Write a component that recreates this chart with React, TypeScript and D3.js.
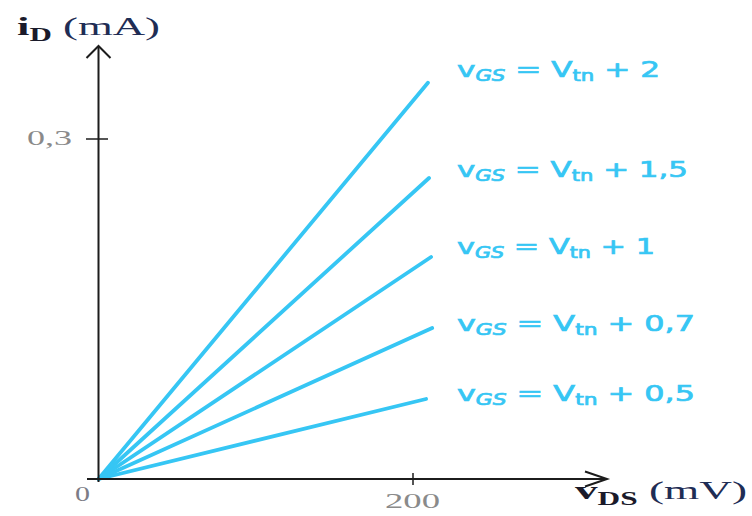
import React from "react";
import * as d3 from "d3";

// ---- data ----
const overdrive = ["2", "1,5", "1", "0,7", "0,5"]; // vGS - Vtn (V)
const endVds = [209.5, 210.2, 211.5, 212.2, 208.3]; // mV, where each line stops
const endId = [0.3497, 0.2656, 0.1959, 0.1332, 0.0706]; // mA at that end
const xTicks = [200];
const xTickLabels = ["200"];
const yTicks = [0.3];
const yTickLabels = ["0,3"];

const W = 752;
const H = 516;
const BLUE = "#36c6f4";
const AXIS = "#1c1c1c";

const x = d3.scaleLinear().domain([0, 200]).range([98.5, 413]);
const y = d3.scaleLinear().domain([0, 0.3]).range([479, 139]);

const labelDy = [-6, -1, -3, 3, 2];
const labelWidths = [203, 231, 198, 238, 238];

export default function App() {
  const line = d3
    .line<[number, number]>()
    .x((d) => x(d[0]))
    .y((d) => y(d[1]));
  const x0 = x(0);
  const y0 = y(0);
  const xEnd = 607;
  const yTop = 46;
  return (
    <svg
      width={W}
      height={H}
      style={{ position: "absolute", left: 0, top: 0, background: "#fff" }}
    >
      {/* series lines */}
      {overdrive.map((o, i) => (
        <path
          key={"l" + i}
          d={line([
            [0, 0],
            [endVds[i], endId[i]],
          ]) as string}
          fill="none"
          stroke={BLUE}
          strokeWidth={3.8}
          strokeLinecap="round"
        />
      ))}

      {/* axes */}
      <line x1={87} y1={y0} x2={xEnd} y2={y0} stroke={AXIS} strokeWidth={2} />
      <line x1={x0} y1={482} x2={x0} y2={yTop} stroke={AXIS} strokeWidth={2} />
      <polyline
        points={`${x0 - 12},${yTop + 12} ${x0},${yTop} ${x0 + 12},${yTop + 12}`}
        fill="none"
        stroke={AXIS}
        strokeWidth={2}
      />
      <polyline
        points={`${xEnd - 22},${y0 - 7.5} ${xEnd},${y0} ${xEnd - 22},${y0 + 7.5}`}
        fill="none"
        stroke={AXIS}
        strokeWidth={2}
      />

      {/* ticks */}
      {xTicks.map((t, i) => (
        <g key={"xt" + i}>
          <line x1={x(t)} x2={x(t)} y1={y0 - 6} y2={y0 + 6} stroke={AXIS} strokeWidth={1.5} />
          <text
            x={x(t) - 28}
            y={508}
            fontFamily="Liberation Serif, serif"
            fontSize={22}
            fill="#8a8a8a"
            textLength={55}
            lengthAdjust="spacingAndGlyphs"
          >
            {xTickLabels[i]}
          </text>
        </g>
      ))}
      {yTicks.map((t, i) => (
        <g key={"yt" + i}>
          <line x1={86} x2={108} y1={y(t)} y2={y(t)} stroke={AXIS} strokeWidth={1.5} />
          <text
            x={27}
            y={y(t) + 6}
            fontFamily="Liberation Serif, serif"
            fontSize={22}
            fill="#8a8a8a"
            textLength={45}
            lengthAdjust="spacingAndGlyphs"
          >
            {yTickLabels[i]}
          </text>
        </g>
      ))}
      <text
        x={75}
        y={501}
        fontFamily="Liberation Serif, serif"
        fontSize={21}
        fill="#7c7c86"
        textLength={15}
        lengthAdjust="spacingAndGlyphs"
      >
        0
      </text>

      {/* axis titles */}
      <text
        x={17}
        y={35}
        fontFamily="Liberation Serif, serif"
        fontSize={26}
        fill="#1a1a2a"
        textLength={143}
        lengthAdjust="spacingAndGlyphs"
      >
        <tspan fontWeight="bold">i</tspan>
        <tspan fontWeight="bold" fontSize={18} dy={6}>D</tspan>
        <tspan dy={-6} fill="#1f2d55"> (mA)</tspan>
      </text>
      <text
        x={575}
        y={499}
        fontFamily="Liberation Serif, serif"
        fontSize={26}
        fill="#1a1a2a"
        textLength={172}
        lengthAdjust="spacingAndGlyphs"
      >
        <tspan fontWeight="bold">v</tspan>
        <tspan fontWeight="bold" fontSize={18} dy={6}>DS</tspan>
        <tspan dy={-6} fill="#1f2d55"> (mV)</tspan>
      </text>

      {/* series labels */}
      {overdrive.map((o, i) => (
        <text
          key={"t" + i}
          x={457}
          y={y(endId[i]) + labelDy[i]}
          fontFamily="DejaVu Sans, sans-serif"
          fontSize={22}
          fill={BLUE}
          stroke={BLUE}
          strokeWidth={0.7}
          textLength={labelWidths[i]}
          lengthAdjust="spacingAndGlyphs"
        >
          v
          <tspan fontSize={15} dy={4} fontStyle="italic">GS</tspan>
          <tspan dy={-4}> = V</tspan>
          <tspan fontSize={15} dy={4}>tn</tspan>
          <tspan dy={-4}>{" + " + o}</tspan>
        </text>
      ))}
    </svg>
  );
}
